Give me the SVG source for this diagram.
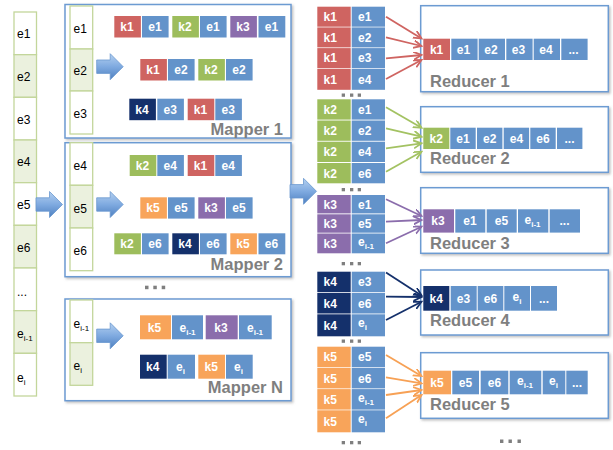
<svg xmlns="http://www.w3.org/2000/svg" xmlns:xlink="http://www.w3.org/1999/xlink" width="613" height="450" viewBox="0 0 613 450">
<style>
.k1{fill:#CF6461}.k2{fill:#9DBD5C}.k3{fill:#8B6DAC}.k4{fill:#14306B}.k5{fill:#F8A45A}.ev{fill:#6393CA}
.t{font-family:"Liberation Sans",Arial,sans-serif;font-size:12px;font-weight:bold;fill:#fff}
.c{text-anchor:middle}
.b{font-family:"Liberation Sans",Arial,sans-serif;font-size:12px;fill:#000}
.lbl{font-family:"Liberation Sans",Arial,sans-serif;font-size:16.5px;font-weight:bold;fill:#7F7F7F}
.end{text-anchor:end}
.box{fill:#fff;stroke:#6C9BD2;stroke-width:1.5;filter:url(#sh)}
.col{stroke:#C3D69B;stroke-width:1.3}
.g{fill:#EBF1DE}.wh{fill:#fff}
.dot{fill:#7F7F7F}
.s{font-size:8px}
.con line{stroke-width:1.8;fill:none}
.r{stroke:#CF6461}.gr{stroke:#A3C262}.p{stroke:#8B6DAC}.n{stroke:#14306B}.o{stroke:#F7A155}
</style>
<defs>
<filter id="sh" x="-5%" y="-5%" width="115%" height="115%">
<feDropShadow dx="1.5" dy="1.5" stdDeviation="1" flood-color="#808080" flood-opacity="0.5"/>
</filter>
<linearGradient id="bg" x1="0" y1="0" x2="0" y2="1">
<stop offset="0" stop-color="#B4D0F0"/>
<stop offset="0.5" stop-color="#7FAAE0"/>
<stop offset="1" stop-color="#4E80C0"/>
</linearGradient>
<path id="ba" d="M0,-6.7 H13.5 V-13 L26.5,0 L13.5,13 V6.7 H0 Z" fill="url(#bg)" stroke="#6A98CF" stroke-width="0.8"/>
<marker id="mr" markerWidth="10" markerHeight="10" refX="8" refY="4" orient="auto" markerUnits="userSpaceOnUse"><path d="M0,0 L8,4 L0,8" fill="none" stroke="#CF6461" stroke-width="1.8"/></marker>
<marker id="mg" markerWidth="10" markerHeight="10" refX="8" refY="4" orient="auto" markerUnits="userSpaceOnUse"><path d="M0,0 L8,4 L0,8" fill="none" stroke="#A3C262" stroke-width="1.8"/></marker>
<marker id="mp" markerWidth="10" markerHeight="10" refX="8" refY="4" orient="auto" markerUnits="userSpaceOnUse"><path d="M0,0 L8,4 L0,8" fill="none" stroke="#8B6DAC" stroke-width="1.8"/></marker>
<marker id="mn" markerWidth="10" markerHeight="10" refX="8" refY="4" orient="auto" markerUnits="userSpaceOnUse"><path d="M0,0 L8,4 L0,8" fill="none" stroke="#14306B" stroke-width="1.8"/></marker>
<marker id="mo" markerWidth="10" markerHeight="10" refX="8" refY="4" orient="auto" markerUnits="userSpaceOnUse"><path d="M0,0 L8,4 L0,8" fill="none" stroke="#F7A155" stroke-width="1.8"/></marker>
</defs>

<!-- Input column -->
<g id="input">
<rect class="col wh" x="14" y="12" width="22.5" height="42.67"/>
<rect class="col g" x="14" y="54.67" width="22.5" height="42.67"/>
<rect class="col wh" x="14" y="97.33" width="22.5" height="42.67"/>
<rect class="col g" x="14" y="140" width="22.5" height="42.67"/>
<rect class="col wh" x="14" y="182.67" width="22.5" height="42.67"/>
<rect class="col g" x="14" y="225.33" width="22.5" height="42.67"/>
<rect class="col wh" x="14" y="268" width="22.5" height="42.67"/>
<rect class="col g" x="14" y="310.67" width="22.5" height="42.67"/>
<rect class="col wh" x="14" y="353.33" width="22.5" height="42.67"/>
<text class="b" x="17" y="38.3">e1</text>
<text class="b" x="17" y="81">e2</text>
<text class="b" x="17" y="123.7">e3</text>
<text class="b" x="17" y="166.3">e4</text>
<text class="b" x="17" y="209">e5</text>
<text class="b" x="17" y="251.7">e6</text>
<text class="b" x="17" y="296">...</text>
<text class="b" x="17" y="338">e<tspan class="s" dy="3">i-1</tspan></text>
<text class="b" x="17" y="381.5">e<tspan class="s" dy="3">i</tspan></text>
</g>

<!-- Mapper 1 -->
<g id="mapper1">
<rect class="box" x="65" y="4.5" width="226" height="133.5"/>
<rect class="col wh" x="70" y="6" width="22.7" height="43"/>
<rect class="col g" x="70" y="49" width="22.7" height="42"/>
<rect class="col wh" x="70" y="91" width="22.7" height="43"/>
<text class="b" x="73.5" y="32.7">e1</text>
<text class="b" x="73.5" y="75">e2</text>
<text class="b" x="73.5" y="118">e3</text>
<use xlink:href="#ba" x="96.7" y="66.7"/>
<rect class="k1" x="114.3" y="16" width="26.6" height="21.5"/><rect class="ev" x="142" y="16" width="26.6" height="21.5"/>
<rect class="k2" x="172.3" y="16" width="26.6" height="21.5"/><rect class="ev" x="200" y="16" width="26.6" height="21.5"/>
<rect class="k3" x="230.3" y="16" width="26.6" height="21.5"/><rect class="ev" x="258.5" y="16" width="26.8" height="21.5"/>
<text class="t c" x="127" y="31">k1</text><text class="t c" x="155" y="31">e1</text>
<text class="t c" x="185" y="31">k2</text><text class="t c" x="213" y="31">e1</text>
<text class="t c" x="243" y="31">k3</text><text class="t c" x="271.5" y="31">e1</text>
<rect class="k1" x="140.3" y="59" width="26.6" height="21.5"/><rect class="ev" x="168" y="59" width="26.6" height="21.5"/>
<rect class="k2" x="198.3" y="59" width="26.6" height="21.5"/><rect class="ev" x="226" y="59" width="26.6" height="21.5"/>
<text class="t c" x="153" y="74">k1</text><text class="t c" x="181" y="74">e2</text>
<text class="t c" x="211" y="74">k2</text><text class="t c" x="239" y="74">e2</text>
<rect class="k4" x="129.3" y="98.7" width="26.6" height="21.5"/><rect class="ev" x="157.3" y="98.7" width="26.6" height="21.5"/>
<rect class="k1" x="187.7" y="98.7" width="26.6" height="21.5"/><rect class="ev" x="215.3" y="98.7" width="26.6" height="21.5"/>
<text class="t c" x="142" y="113.7">k4</text><text class="t c" x="170.3" y="113.7">e3</text>
<text class="t c" x="200.5" y="113.7">k1</text><text class="t c" x="228.3" y="113.7">e3</text>
<text class="lbl end" x="283" y="135">Mapper 1</text>
</g>

<!-- Mapper 2 -->
<g id="mapper2">
<rect class="box" x="65" y="142.7" width="226" height="134"/>
<rect class="col wh" x="70" y="142.7" width="22.7" height="42.6"/>
<rect class="col g" x="70" y="185.3" width="22.7" height="42.7"/>
<rect class="col wh" x="70" y="228" width="22.7" height="42.7"/>
<text class="b" x="73.5" y="169.5">e4</text>
<text class="b" x="73.5" y="212.7">e5</text>
<text class="b" x="73.5" y="255">e6</text>
<use xlink:href="#ba" x="96.7" y="204.5"/>
<rect class="k2" x="129.7" y="155" width="26.6" height="21"/><rect class="ev" x="157.3" y="155" width="26.6" height="21"/>
<rect class="k1" x="187.7" y="155" width="26.6" height="21"/><rect class="ev" x="215.3" y="155" width="26.6" height="21"/>
<text class="t c" x="142.5" y="169.8">k2</text><text class="t c" x="170.3" y="169.8">e4</text>
<text class="t c" x="200.5" y="169.8">k1</text><text class="t c" x="228.3" y="169.8">e4</text>
<rect class="k5" x="140.3" y="197.3" width="26.6" height="21.3"/><rect class="ev" x="168" y="197.3" width="26.6" height="21.3"/>
<rect class="k3" x="198.3" y="197.3" width="26.6" height="21.3"/><rect class="ev" x="226" y="197.3" width="26.6" height="21.3"/>
<text class="t c" x="153" y="212.2">k5</text><text class="t c" x="181" y="212.2">e5</text>
<text class="t c" x="211" y="212.2">k3</text><text class="t c" x="239" y="212.2">e5</text>
<rect class="k2" x="114.3" y="233.3" width="26.6" height="21"/><rect class="ev" x="142" y="233.3" width="26.6" height="21"/>
<rect class="k4" x="172.3" y="233.3" width="26.6" height="21"/><rect class="ev" x="200" y="233.3" width="26.6" height="21"/>
<rect class="k5" x="230.3" y="233.3" width="26.6" height="21"/><rect class="ev" x="258.5" y="233.3" width="26.8" height="21"/>
<text class="t c" x="127" y="248">k2</text><text class="t c" x="155" y="248">e6</text>
<text class="t c" x="185" y="248">k4</text><text class="t c" x="213" y="248">e6</text>
<text class="t c" x="243" y="248">k5</text><text class="t c" x="271.5" y="248">e6</text>
<text class="lbl end" x="283" y="270">Mapper 2</text>
</g>

<g id="mapper-dots">
<rect class="dot" x="145" y="285.7" width="3.5" height="3.5"/>
<rect class="dot" x="153.3" y="285.7" width="3.5" height="3.5"/>
<rect class="dot" x="161.7" y="285.7" width="3.5" height="3.5"/>
</g>

<!-- Mapper N -->
<g id="mapperN">
<rect class="box" x="65" y="299" width="226" height="101.7"/>
<rect class="col wh" x="70" y="300" width="22.7" height="42.7"/>
<rect class="col g" x="70" y="342.7" width="22.7" height="42.6"/>
<text class="b" x="73.5" y="328">e<tspan class="s" dy="3">i-1</tspan></text>
<text class="b" x="73.5" y="370">e<tspan class="s" dy="3">i</tspan></text>
<use xlink:href="#ba" x="96.7" y="335.8"/>
<rect class="k5" x="140" y="315.3" width="31" height="24"/><rect class="ev" x="172" y="315.3" width="31" height="24"/>
<rect class="k3" x="205.7" y="315.3" width="32" height="24"/><rect class="ev" x="239" y="315.3" width="32.7" height="24"/>
<text class="t c" x="154.5" y="331.5">k5</text><text class="t c" x="187.5" y="331.5">e<tspan class="s" dy="3">i-1</tspan></text>
<text class="t c" x="221" y="331.5">k3</text><text class="t c" x="255" y="331.5">e<tspan class="s" dy="3">i-1</tspan></text>
<rect class="k4" x="140" y="354.7" width="26.7" height="24"/><rect class="ev" x="167.7" y="354.7" width="27.3" height="24"/>
<rect class="k5" x="198.3" y="354.7" width="26.7" height="24"/><rect class="ev" x="226" y="354.7" width="26.7" height="24"/>
<text class="t c" x="152.8" y="370.9">k4</text><text class="t c" x="180.5" y="370.9">e<tspan class="s" dy="3">i</tspan></text>
<text class="t c" x="211.2" y="370.9">k5</text><text class="t c" x="238.5" y="370.9">e<tspan class="s" dy="3">i</tspan></text>
<text class="lbl end" x="283" y="393.3">Mapper N</text>
</g>

<!-- big arrows -->
<g id="flow-arrows">
<use xlink:href="#ba" x="36" y="204.5"/>
<use xlink:href="#ba" x="290" y="191.3"/>
</g>

<!-- Shuffle groups -->
<g id="shuffle-k1">
<rect class="k1" x="317.3" y="6.7" width="33.4" height="20"/><rect class="ev" x="351.7" y="6.7" width="33.3" height="20"/>
<rect class="k1" x="317.3" y="27.4" width="33.4" height="20"/><rect class="ev" x="351.7" y="27.4" width="33.3" height="20"/>
<rect class="k1" x="317.3" y="48.1" width="33.4" height="20"/><rect class="ev" x="351.7" y="48.1" width="33.3" height="20"/>
<rect class="k1" x="317.3" y="68.8" width="33.4" height="21"/><rect class="ev" x="351.7" y="68.8" width="33.3" height="21"/>
<text class="t" x="323.5" y="21">k1</text><text class="t" x="358" y="21">e1</text>
<text class="t" x="323.5" y="41.7">k1</text><text class="t" x="358" y="41.7">e2</text>
<text class="t" x="323.5" y="62.4">k1</text><text class="t" x="358" y="62.4">e3</text>
<text class="t" x="323.5" y="83.6">k1</text><text class="t" x="358" y="83.6">e4</text>
<rect class="dot" x="341.7" y="93.5" width="3.3" height="3.3"/><rect class="dot" x="350" y="93.5" width="3.3" height="3.3"/><rect class="dot" x="357.7" y="93.5" width="3.3" height="3.3"/>
</g>

<g id="shuffle-k2">
<rect class="k2" x="317.3" y="99.3" width="33.4" height="20.3"/><rect class="ev" x="351.7" y="99.3" width="33.3" height="20.3"/>
<rect class="k2" x="317.3" y="120.5" width="33.4" height="20.3"/><rect class="ev" x="351.7" y="120.5" width="33.3" height="20.3"/>
<rect class="k2" x="317.3" y="141.7" width="33.4" height="20.3"/><rect class="ev" x="351.7" y="141.7" width="33.3" height="20.3"/>
<rect class="k2" x="317.3" y="163" width="33.4" height="20.3"/><rect class="ev" x="351.7" y="163" width="33.3" height="20.3"/>
<text class="t" x="323.5" y="113.8">k2</text><text class="t" x="358" y="113.8">e1</text>
<text class="t" x="323.5" y="135">k2</text><text class="t" x="358" y="135">e2</text>
<text class="t" x="323.5" y="156.2">k2</text><text class="t" x="358" y="156.2">e4</text>
<text class="t" x="323.5" y="177.5">k2</text><text class="t" x="358" y="177.5">e6</text>
<rect class="dot" x="341.7" y="188" width="3.3" height="3.3"/><rect class="dot" x="350" y="188" width="3.3" height="3.3"/><rect class="dot" x="357.7" y="188" width="3.3" height="3.3"/>
</g>

<g id="shuffle-k3">
<rect class="k3" x="317.3" y="195" width="33.4" height="18.4"/><rect class="ev" x="351.7" y="195" width="33.3" height="18.4"/>
<rect class="k3" x="317.3" y="214.3" width="33.4" height="18.4"/><rect class="ev" x="351.7" y="214.3" width="33.3" height="18.4"/>
<rect class="k3" x="317.3" y="233.5" width="33.4" height="19.8"/><rect class="ev" x="351.7" y="233.5" width="33.3" height="19.8"/>
<text class="t" x="323.5" y="208.5">k3</text><text class="t" x="358" y="208.5">e1</text>
<text class="t" x="323.5" y="227.8">k3</text><text class="t" x="358" y="227.8">e5</text>
<text class="t" x="323.5" y="247.5">k3</text><text class="t" x="358" y="245.5">e<tspan class="s" dy="3">i-1</tspan></text>
<rect class="dot" x="341.7" y="262" width="3.3" height="3.3"/><rect class="dot" x="350" y="262" width="3.3" height="3.3"/><rect class="dot" x="357.7" y="262" width="3.3" height="3.3"/>
</g>

<g id="shuffle-k4">
<rect class="k4" x="317.3" y="271.7" width="33.4" height="20.5"/><rect class="ev" x="351.7" y="271.7" width="33.3" height="20.5"/>
<rect class="k4" x="317.3" y="293" width="33.4" height="20.5"/><rect class="ev" x="351.7" y="293" width="33.3" height="20.5"/>
<rect class="k4" x="317.3" y="314.3" width="33.4" height="22"/><rect class="ev" x="351.7" y="314.3" width="33.3" height="22"/>
<text class="t" x="323.5" y="286.3">k4</text><text class="t" x="358" y="286.3">e3</text>
<text class="t" x="323.5" y="307.6">k4</text><text class="t" x="358" y="307.6">e6</text>
<text class="t" x="323.5" y="329.5">k4</text><text class="t" x="358" y="327">e<tspan class="s" dy="3">i</tspan></text>
<rect class="dot" x="341.7" y="339.5" width="3.3" height="3.3"/><rect class="dot" x="350" y="339.5" width="3.3" height="3.3"/><rect class="dot" x="357.7" y="339.5" width="3.3" height="3.3"/>
</g>

<g id="shuffle-k5">
<rect class="k5" x="317.3" y="346.7" width="33.4" height="20.5"/><rect class="ev" x="351.7" y="346.7" width="33.3" height="20.5"/>
<rect class="k5" x="317.3" y="367.9" width="33.4" height="20.5"/><rect class="ev" x="351.7" y="367.9" width="33.3" height="20.5"/>
<rect class="k5" x="317.3" y="389.1" width="33.4" height="20.5"/><rect class="ev" x="351.7" y="389.1" width="33.3" height="20.5"/>
<rect class="k5" x="317.3" y="410.3" width="33.4" height="22"/><rect class="ev" x="351.7" y="410.3" width="33.3" height="22"/>
<text class="t" x="323.5" y="361.3">k5</text><text class="t" x="358" y="361.3">e5</text>
<text class="t" x="323.5" y="382.5">k5</text><text class="t" x="358" y="382.5">e6</text>
<text class="t" x="323.5" y="403.7">k5</text><text class="t" x="358" y="401.7">e<tspan class="s" dy="3">i-1</tspan></text>
<text class="t" x="323.5" y="425.5">k5</text><text class="t" x="358" y="423">e<tspan class="s" dy="3">i</tspan></text>
<rect class="dot" x="341.7" y="441" width="3.3" height="3.3"/><rect class="dot" x="350" y="441" width="3.3" height="3.3"/><rect class="dot" x="357.7" y="441" width="3.3" height="3.3"/>
</g>

<!-- Reducers -->
<g id="reducer1">
<rect class="box" x="420.7" y="5.7" width="187.6" height="86"/>
<rect class="k1" x="423.3" y="38.7" width="26.7" height="21.3"/>
<rect class="ev" x="451.3" y="38.7" width="26.3" height="21.3"/><rect class="ev" x="478.7" y="38.7" width="26.3" height="21.3"/>
<rect class="ev" x="506.3" y="38.7" width="26.3" height="21.3"/><rect class="ev" x="533.7" y="38.7" width="26.3" height="21.3"/>
<rect class="ev" x="561.3" y="38.7" width="26.3" height="21.3"/>
<text class="t c" x="436.6" y="53.6">k1</text><text class="t c" x="463.5" y="53.6">e1</text><text class="t c" x="491" y="53.6">e2</text>
<text class="t c" x="518.5" y="53.6">e3</text><text class="t c" x="546" y="53.6">e4</text><text class="t c" x="573.5" y="53.6">...</text>
<text class="lbl" x="430" y="87.3">Reducer 1</text>
</g>

<g id="reducer2">
<rect class="box" x="420.7" y="106.7" width="187.6" height="65.6"/>
<rect class="k2" x="423.3" y="127.7" width="26" height="21.3"/>
<rect class="ev" x="450.3" y="127.7" width="25.4" height="21.3"/><rect class="ev" x="477" y="127.7" width="25.4" height="21.3"/>
<rect class="ev" x="503.7" y="127.7" width="25.4" height="21.3"/><rect class="ev" x="530.3" y="127.7" width="25.4" height="21.3"/>
<rect class="ev" x="557" y="127.7" width="25.4" height="21.3"/>
<text class="t c" x="436.3" y="142.6">k2</text><text class="t c" x="463" y="142.6">e1</text><text class="t c" x="489.7" y="142.6">e2</text>
<text class="t c" x="516.4" y="142.6">e4</text><text class="t c" x="543" y="142.6">e6</text><text class="t c" x="569.5" y="142.6">...</text>
<text class="lbl" x="430" y="164">Reducer 2</text>
</g>

<g id="reducer3">
<rect class="box" x="420.7" y="187.7" width="187.6" height="65.6"/>
<rect class="k3" x="423.3" y="209.3" width="30.7" height="23.3"/>
<rect class="ev" x="455.3" y="209.3" width="30" height="23.3"/><rect class="ev" x="486.7" y="209.3" width="30" height="23.3"/>
<rect class="ev" x="518" y="209.3" width="30.3" height="23.3"/><rect class="ev" x="549.7" y="209.3" width="30.3" height="23.3"/>
<text class="t c" x="438" y="225.2">k3</text><text class="t c" x="470" y="225.2">e1</text><text class="t c" x="501.5" y="225.2">e5</text>
<text class="t c" x="532.5" y="223.5">e<tspan class="s" dy="3">i-1</tspan></text><text class="t c" x="564.5" y="225.2">...</text>
<text class="lbl" x="430" y="249">Reducer 3</text>
</g>

<g id="reducer4">
<rect class="box" x="420.7" y="270" width="187.6" height="65"/>
<rect class="k4" x="423.3" y="286" width="26" height="24.7"/>
<rect class="ev" x="450.7" y="286" width="26" height="24.7"/><rect class="ev" x="477.7" y="286" width="25.6" height="24.7"/>
<rect class="ev" x="504.3" y="286" width="25.7" height="24.7"/><rect class="ev" x="531" y="286" width="26" height="24.7"/>
<text class="t c" x="436.3" y="302.6">k4</text><text class="t c" x="463.5" y="302.6">e3</text><text class="t c" x="490.5" y="302.6">e6</text>
<text class="t c" x="517" y="301">e<tspan class="s" dy="3">i</tspan></text><text class="t c" x="544" y="302.6">...</text>
<text class="lbl" x="430" y="326">Reducer 4</text>
</g>

<g id="reducer5">
<rect class="box" x="420.7" y="352.7" width="187.6" height="65.6"/>
<rect class="k5" x="423.3" y="370.7" width="27.7" height="23.6"/>
<rect class="ev" x="452.3" y="370.7" width="26.7" height="23.6"/><rect class="ev" x="480.7" y="370.7" width="27.6" height="23.6"/>
<rect class="ev" x="509.7" y="370.7" width="31.6" height="23.6"/><rect class="ev" x="542.7" y="370.7" width="22.6" height="23.6"/>
<rect class="ev" x="566.3" y="370.7" width="21.4" height="23.6"/>
<text class="t c" x="437" y="386.8">k5</text><text class="t c" x="465.5" y="386.8">e5</text><text class="t c" x="494.5" y="386.8">e6</text>
<text class="t c" x="525" y="385">e<tspan class="s" dy="3">i-1</tspan></text><text class="t c" x="553.5" y="385">e<tspan class="s" dy="3">i</tspan></text>
<text class="t c" x="577" y="386.8">...</text>
<text class="lbl" x="430" y="410">Reducer 5</text>
</g>

<g id="reducer-dots">
<rect class="dot" x="500" y="439.5" width="3.4" height="3.5"/>
<rect class="dot" x="508.5" y="439.5" width="3.4" height="3.5"/>
<rect class="dot" x="517.5" y="439.5" width="3.4" height="3.5"/>
</g>

<!-- Connectors -->
<g id="connectors" class="con">
<line class="r" x1="386" y1="16.7" x2="421.5" y2="38.5" marker-end="url(#mr)"/>
<line class="r" x1="386" y1="37.3" x2="421.5" y2="46" marker-end="url(#mr)"/>
<line class="r" x1="386" y1="58.3" x2="421.5" y2="55" marker-end="url(#mr)"/>
<line class="r" x1="386" y1="79" x2="421.5" y2="60" marker-end="url(#mr)"/>
<line class="gr" x1="386" y1="107.3" x2="421.5" y2="127.7" marker-end="url(#mg)"/>
<line class="gr" x1="386" y1="128.3" x2="421.5" y2="136.7" marker-end="url(#mg)"/>
<line class="gr" x1="386" y1="148.3" x2="421.5" y2="143.3" marker-end="url(#mg)"/>
<line class="gr" x1="386" y1="171.7" x2="421.5" y2="151.7" marker-end="url(#mg)"/>
<line class="p" x1="386" y1="199.3" x2="421.5" y2="216" marker-end="url(#mp)"/>
<line class="p" x1="386" y1="221.7" x2="421.5" y2="220" marker-end="url(#mp)"/>
<line class="p" x1="386" y1="243.3" x2="421.5" y2="226.7" marker-end="url(#mp)"/>
<line class="n" x1="386" y1="272.5" x2="421.5" y2="295.5" marker-end="url(#mn)"/>
<line class="n" x1="386" y1="296.7" x2="421.5" y2="297" marker-end="url(#mn)"/>
<line class="n" x1="386" y1="320" x2="421.5" y2="301.7" marker-end="url(#mn)"/>
<line class="o" x1="386" y1="355" x2="421.5" y2="376" marker-end="url(#mo)"/>
<line class="o" x1="386" y1="377.3" x2="421.5" y2="383.3" marker-end="url(#mo)"/>
<line class="o" x1="386" y1="395" x2="421.5" y2="390" marker-end="url(#mo)"/>
<line class="o" x1="386" y1="418.3" x2="421.5" y2="395" marker-end="url(#mo)"/>
</g>
</svg>
